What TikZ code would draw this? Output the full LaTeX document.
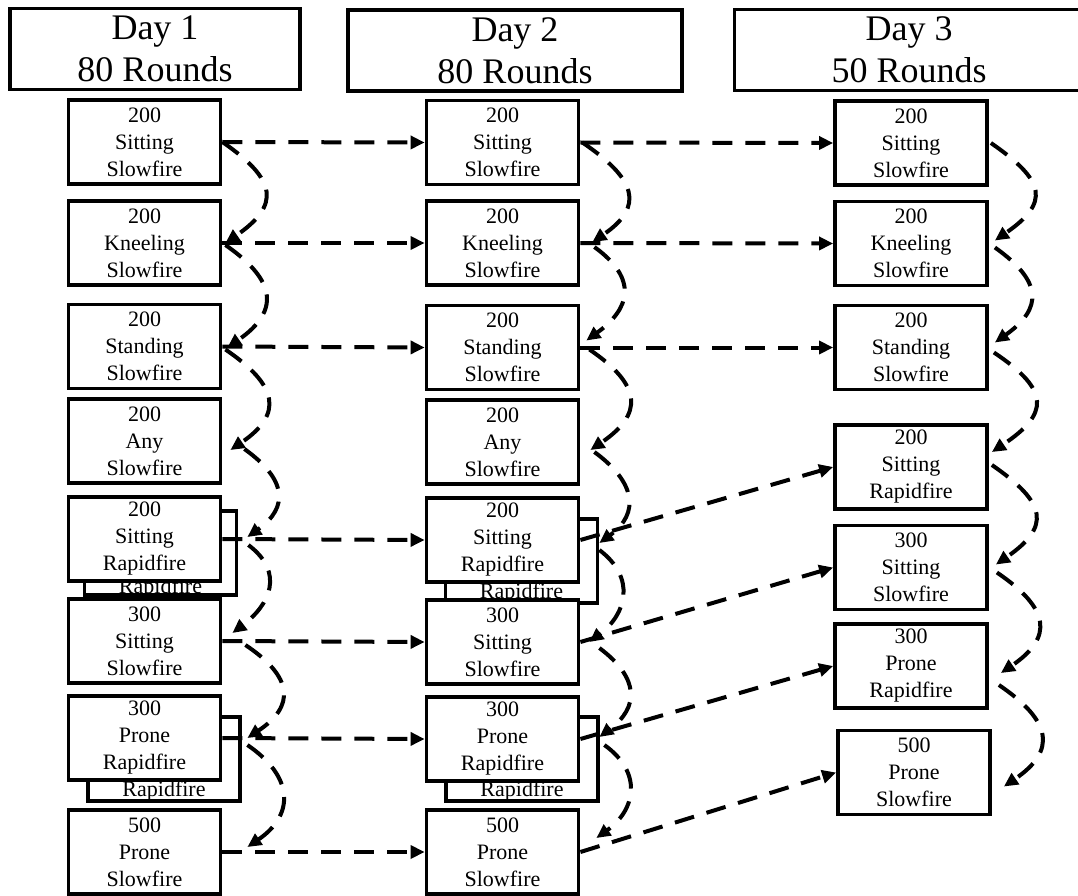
\documentclass[tikz,border=0pt]{standalone}
\usepackage{fontspec}
\setmainfont{Liberation Serif}
\usetikzlibrary{arrows.meta}
\begin{document}
\begin{tikzpicture}[x=1pt,y=-1pt,
  hdr/.style={draw, line width=3.8pt, fill=white, minimum height=81pt, inner sep=0pt, align=center, font=\fontsize{36}{42}\selectfont},
  bx/.style={draw, line width=3.8pt, fill=white, minimum width=152pt, minimum height=84pt, inner sep=0pt, align=center, font=\fontsize{22}{27}\selectfont},
  ghosttext/.style={anchor=base, inner sep=0pt, font=\fontsize{22}{27}\selectfont},
  darr/.style={line width=4pt, dash pattern=on 20pt off 13pt, -{Triangle[length=14pt,width=13pt]}},
]
\useasboundingbox (0,0) rectangle (1078,896);
\fill[white] (0,0) rectangle (1078,896);

% headers
\node[hdr, minimum width=290pt] (h1) at (155,49) {Day 1\\80 Rounds};
\node[hdr, minimum width=334pt] (h2) at (515,50.5) {Day 2\\80 Rounds};
\node[hdr, minimum width=349pt] (h3) at (909,50) {Day 3\\50 Rounds};

% stacked (behind) boxes
\node[bx] (a5s) at (160.5,553) {};
\node[ghosttext] (a5t) at ([yshift=3.5pt]a5s.south) {Rapidfire};
\node[bx] (a7s) at (164,759) {};
\node[ghosttext] (a7t) at ([yshift=6pt]a7s.south) {Rapidfire};
\node[bx] (b5s) at (521.5,561) {};
\node[ghosttext] (b5t) at ([yshift=6pt]b5s.south) {Rapidfire};
\node[bx] (b7s) at (522,759) {};
\node[ghosttext] (b7t) at ([yshift=6pt]b7s.south) {Rapidfire};

% column 1
\node[bx] (a1) at (144.5,142) {200\\Sitting\\Slowfire};
\node[bx] (a2) at (144.5,243) {200\\Kneeling\\Slowfire};
\node[bx] (a3) at (144.5,346.5) {200\\Standing\\Slowfire};
\node[bx] (a4) at (144.5,441) {200\\Any\\Slowfire};
\node[bx] (a5) at (144.5,539) {200\\Sitting\\Rapidfire};
\node[bx] (a6) at (144.5,641) {300\\Sitting\\Slowfire};
\node[bx] (a7) at (144.5,738) {300\\Prone\\Rapidfire};
\node[bx] (a8) at (144.5,852) {500\\Prone\\Slowfire};

% column 2
\node[bx] (b1) at (502.5,142.5) {200\\Sitting\\Slowfire};
\node[bx] (b2) at (502.5,243) {200\\Kneeling\\Slowfire};
\node[bx] (b3) at (502.5,347.5) {200\\Standing\\Slowfire};
\node[bx] (b4) at (502.5,442) {200\\Any\\Slowfire};
\node[bx] (b5) at (502.5,540) {200\\Sitting\\Rapidfire};
\node[bx] (b6) at (502.5,642) {300\\Sitting\\Slowfire};
\node[bx] (b7) at (502.5,739) {300\\Prone\\Rapidfire};
\node[bx] (b8) at (502.5,852) {500\\Prone\\Slowfire};

% column 3
\node[bx] (c1) at (911,143) {200\\Sitting\\Slowfire};
\node[bx] (c2) at (911,243.5) {200\\Kneeling\\Slowfire};
\node[bx] (c3) at (911,347.5) {200\\Standing\\Slowfire};
\node[bx] (c4) at (911,467) {200\\Sitting\\Rapidfire};
\node[bx] (c5) at (911,567.5) {300\\Sitting\\Slowfire};
\node[bx] (c6) at (911,666) {300\\Prone\\Rapidfire};
\node[bx] (c7) at (914,772.5) {500\\Prone\\Slowfire};

% day1 -> day2
\draw[darr] (a1.east) -- (b1.west);
\draw[darr] (a2.east) -- (b2.west);
\draw[darr] (a3.east) -- (b3.west);
\draw[darr] (a5.east) -- (b5.west);
\draw[darr] (a6.east) -- (b6.west);
\draw[darr] (a7.east) -- (b7.west);
\draw[darr] (a8.east) -- (b8.west);

% day2 -> day3
\draw[darr] (b1.east) -- (c1.west);
\draw[darr] (b2.east) -- (c2.west);
\draw[darr] (b3.east) -- (c3.west);
\draw[darr] (b5.east) -- (c4.west);
\draw[darr] (b6.east) -- (c5.west);
\draw[darr] (b7.east) -- (c6.west);
\draw[darr] (b8.east) -- (c7.west);

% column 1 sequence
\draw[darr] (a1.east) .. controls +(55,38) and +(55,-38) .. ([shift={(3,0)}]a2.east);
\draw[darr] ([shift={(3,2)}]a2.east) .. controls +(52,36) and +(52,-36) .. ([shift={(5,1)}]a3.east);
\draw[darr] ([shift={(3,3)}]a3.east) .. controls +(53,36) and +(53,-36) .. ([shift={(8,9)}]a4.east);
\draw[darr] ([shift={(22,8)}]a4.east) .. controls +(42,30) and +(42,-30) .. ([shift={(25,-2)}]a5.east);
\draw[darr] ([shift={(26,6)}]a5.east) .. controls +(37,28) and +(37,-28) .. ([shift={(10,-8)}]a6.east);
\draw[darr] ([shift={(23,4)}]a6.east) .. controls +(48,32) and +(48,-32) .. ([shift={(25,0)}]a7.east);
\draw[darr] ([shift={(25,7)}]a7.east) .. controls +(47,32) and +(47,-32) .. ([shift={(25,-5)}]a8.east);

% column 2 sequence
\draw[darr] ([shift={(2,0)}]b1.east) .. controls +(53,36) and +(53,-36) .. ([shift={(12,-1)}]b2.east);
\draw[darr] ([shift={(14,4)}]b2.east) .. controls +(44,32) and +(44,-32) .. ([shift={(6,-7)}]b3.east);
\draw[darr] ([shift={(9,2)}]b3.east) .. controls +(53,36) and +(53,-36) .. ([shift={(10,8)}]b4.east);
\draw[darr] ([shift={(14,10)}]b4.east) .. controls +(41,30) and +(41,-30) .. ([shift={(19,3)}]b5.east);
\draw[darr] ([shift={(19,10)}]b5.east) .. controls +(37,28) and +(37,-28) .. ([shift={(9,0)}]b6.east);
\draw[darr] ([shift={(19,6)}]b6.east) .. controls +(40,30) and +(40,-30) .. ([shift={(19,-2)}]b7.east);
\draw[darr] ([shift={(24,6)}]b7.east) .. controls +(39,28) and +(39,-28) .. ([shift={(16,-14)}]b8.east);

% column 3 sequence
\draw[darr] ([shift={(2,0)}]c1.east) .. controls +(55,38) and +(55,-38) .. ([shift={(6,-3)}]c2.east);
\draw[darr] ([shift={(6,4)}]c2.east) .. controls +(48,34) and +(48,-34) .. ([shift={(6,-5)}]c3.east);
\draw[darr] ([shift={(5,5)}]c3.east) .. controls +(57,38) and +(57,-38) .. ([shift={(3,-15)}]c4.east);
\draw[darr] ([shift={(3,-2)}]c4.east) .. controls +(55,38) and +(55,-38) .. ([shift={(7,-3)}]c5.east);
\draw[darr] ([shift={(8,5)}]c5.east) .. controls +(53,36) and +(53,-36) .. ([shift={(12,7)}]c6.east);
\draw[darr] ([shift={(10,19)}]c6.east) .. controls +(53,36) and +(53,-36) .. ([shift={(12,14)}]c7.east);
\end{tikzpicture}
\end{document}
